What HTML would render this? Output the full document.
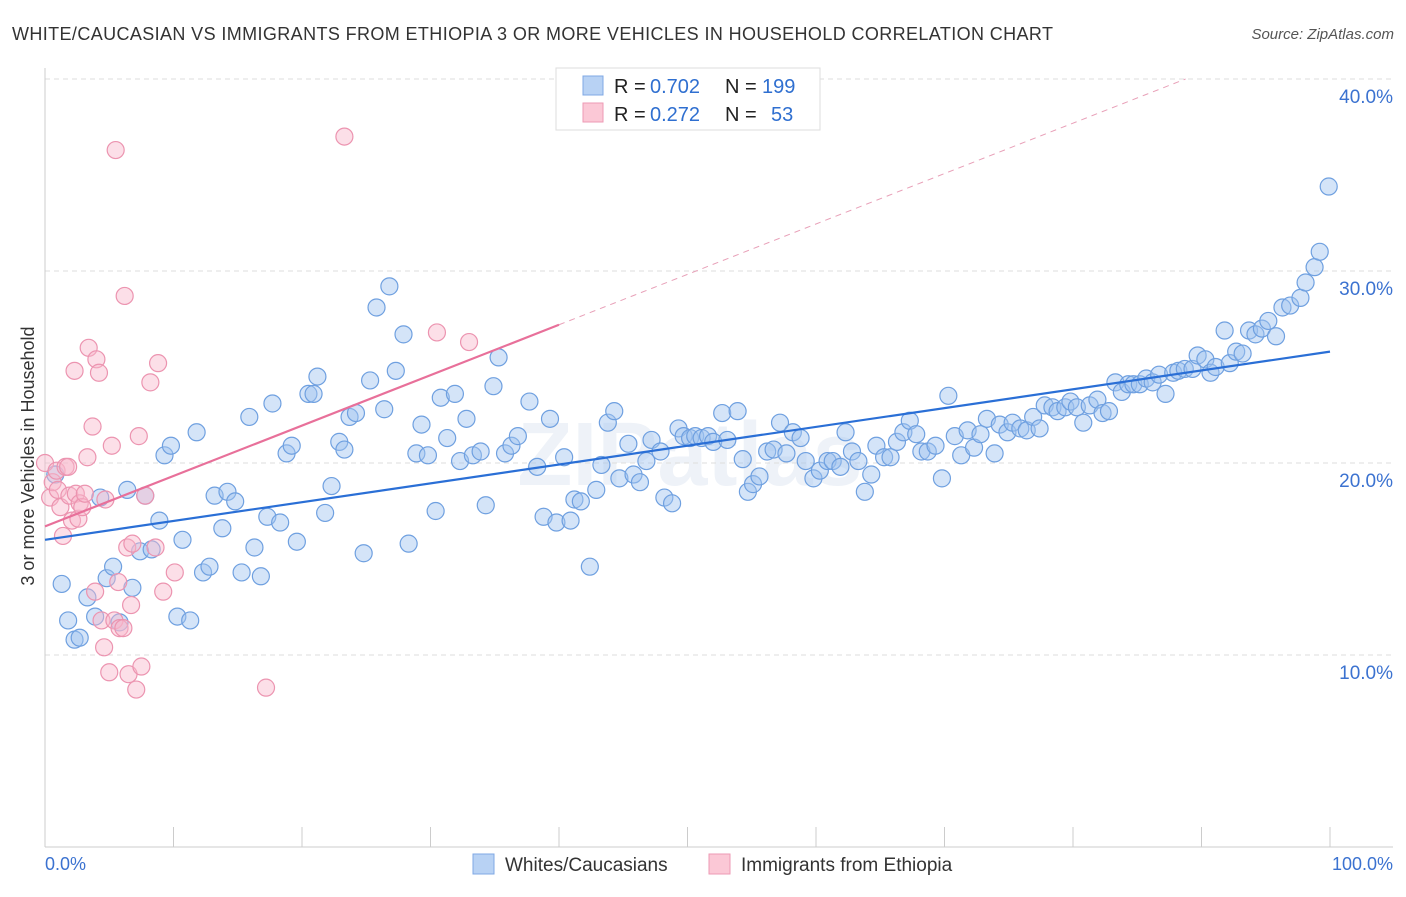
<!DOCTYPE html>
<html><head><meta charset="utf-8"><style>
body{margin:0;background:#fff;font-family:"Liberation Sans",sans-serif;}
svg text{font-family:"Liberation Sans",sans-serif;}
</style></head><body>
<svg id="chart" width="1406" height="892" xmlns="http://www.w3.org/2000/svg">
<text x="12" y="40" font-size="18" fill="#333" textLength="1041">WHITE/CAUCASIAN VS IMMIGRANTS FROM ETHIOPIA 3 OR MORE VEHICLES IN HOUSEHOLD CORRELATION CHART</text>
<text x="1394" y="39" font-size="15" fill="#555" font-style="italic" text-anchor="end">Source: ZipAtlas.com</text>
<text x="690" y="485" font-size="90" fill="#eef2f8" text-anchor="middle" font-weight="bold">ZIPatlas</text>
<text transform="translate(34,456) rotate(-90)" font-size="18" fill="#333" text-anchor="middle">3 or more Vehicles in Household</text>
<g id="grid"></g><g id="pts"></g><g id="lines"></g>
<g>
<rect x="556" y="68" width="264" height="62" fill="#fff" stroke="#ddd"/>
<rect x="583" y="76" width="20" height="19" fill="#b8d2f4" stroke="#7fa8e4"/>
<rect x="583" y="103" width="20" height="19" fill="#fbc8d6" stroke="#ee9ab4"/>
<text x="614" y="93" font-size="20" fill="#222">R =</text>
<text x="650" y="93" font-size="20" fill="#2f6fd0">0.702</text>
<text x="725" y="93" font-size="20" fill="#222">N =</text>
<text x="762" y="93" font-size="20" fill="#2f6fd0">199</text>
<text x="614" y="121" font-size="20" fill="#222">R =</text>
<text x="650" y="121" font-size="20" fill="#2f6fd0">0.272</text>
<text x="725" y="121" font-size="20" fill="#222">N =</text>
<text x="771" y="121" font-size="20" fill="#2f6fd0">53</text>
</g>
<g>
<rect x="473" y="854" width="21" height="20" fill="#b8d2f4" stroke="#7fa8e4"/>
<text x="505" y="871" font-size="19" fill="#333">Whites/Caucasians</text>
<rect x="709" y="854" width="21" height="20" fill="#fbc8d6" stroke="#ee9ab4"/>
<text x="741" y="871" font-size="19" fill="#333">Immigrants from Ethiopia</text>
</g>
<text x="45" y="870" font-size="18" fill="#3b72d0">0.0%</text>
<text x="1393" y="870" font-size="18" fill="#3b72d0" text-anchor="end">100.0%</text>
</svg>
<script>
const yTicks=[10,20,30,40];
const blueX=[0.8,1.3,1.8,2.3,2.7,3.3,3.9,4.3,4.8,5.3,5.8,6.4,6.8,7.4,7.8,8.3,8.9,9.3,9.8,10.3,10.7,11.3,11.8,12.3,12.8,13.2,13.8,14.2,14.8,15.3,15.9,16.3,16.8,17.3,17.7,18.3,18.8,19.2,19.6,20.5,20.9,21.2,21.8,22.3,22.9,23.3,23.7,24.2,24.8,25.3,25.8,26.4,26.8,27.3,27.9,28.3,28.9,29.3,29.8,30.4,30.8,31.3,31.9,32.3,32.8,33.3,33.9,34.3,34.9,35.3,35.8,36.3,36.8,37.7,38.3,38.8,39.3,39.8,40.4,40.9,41.2,41.7,42.4,42.9,43.3,43.8,44.3,44.7,45.4,45.8,46.3,46.8,47.2,47.9,48.2,48.8,49.3,49.7,50.2,50.6,51.1,51.6,52.0,52.7,53.1,53.9,54.3,54.7,55.1,55.6,56.2,56.7,57.2,57.7,58.2,58.8,59.2,59.8,60.3,60.9,61.3,61.9,62.3,62.8,63.3,63.8,64.3,64.7,65.3,65.8,66.3,66.8,67.3,67.8,68.2,68.7,69.3,69.8,70.3,70.8,71.3,71.8,72.3,72.8,73.3,73.9,74.3,74.9,75.3,75.9,76.4,76.9,77.4,77.8,78.4,78.8,79.4,79.8,80.3,80.8,81.3,81.9,82.3,82.8,83.3,83.8,84.3,84.7,85.2,85.7,86.2,86.7,87.2,87.8,88.2,88.7,89.3,89.7,90.3,90.7,91.1,91.8,92.2,92.7,93.2,93.7,94.2,94.7,95.2,95.8,96.3,96.9,97.7,98.1,98.8,99.2,99.9];
const blueY=[19.4,13.7,11.8,10.8,10.9,13.0,12.0,18.2,14.0,14.6,11.7,18.6,13.5,15.4,18.3,15.5,17.0,20.4,20.9,12.0,16.0,11.8,21.6,14.3,14.6,18.3,16.6,18.5,18.0,14.3,22.4,15.6,14.1,17.2,23.1,16.9,20.5,20.9,15.9,23.6,23.6,24.5,17.4,18.8,21.1,20.7,22.4,22.6,15.3,24.3,28.1,22.8,29.2,24.8,26.7,15.8,20.5,22.0,20.4,17.5,23.4,21.3,23.6,20.1,22.3,20.4,20.6,17.8,24.0,25.5,20.5,20.9,21.4,23.2,19.8,17.2,22.3,16.9,20.3,17.0,18.1,18.0,14.6,18.6,19.9,22.1,22.7,19.2,21.0,19.4,19.0,20.1,21.2,20.6,18.2,17.9,21.8,21.4,21.3,21.4,21.3,21.4,21.1,22.6,21.2,22.7,20.2,18.5,18.9,19.3,20.6,20.7,22.1,20.5,21.6,21.3,20.1,19.2,19.6,20.1,20.1,19.8,21.6,20.6,20.1,18.5,19.4,20.9,20.3,20.3,21.1,21.6,22.2,21.5,20.6,20.6,20.9,19.2,23.5,21.4,20.4,21.7,20.8,21.5,22.3,20.5,22.0,21.6,22.1,21.8,21.7,22.4,21.8,23.0,22.9,22.7,22.9,23.2,22.9,22.1,23.0,23.3,22.6,22.7,24.2,23.7,24.1,24.1,24.1,24.4,24.2,24.6,23.6,24.7,24.8,24.9,24.9,25.6,25.4,24.7,25.0,26.9,25.2,25.8,25.7,26.9,26.7,27.0,27.4,26.6,28.1,28.2,28.6,29.4,30.2,31.0,34.4];
const pinkX=[0,0.4,0.6,0.9,1.0,1.2,1.4,1.6,1.8,1.9,2.1,2.3,2.4,2.6,2.7,2.9,3.1,3.3,3.4,3.7,3.9,4.0,4.2,4.4,4.6,4.7,5.0,5.2,5.4,5.5,5.7,5.8,6.1,6.2,6.4,6.5,6.7,6.8,7.1,7.3,7.5,7.8,8.2,8.6,8.8,9.2,10.1,17.2,23.3,30.5,33.0];
const pinkY=[20.0,18.2,19.0,19.6,18.6,17.7,16.2,19.8,19.8,18.3,17.0,24.8,18.4,17.1,17.9,17.7,18.4,20.3,26.0,21.9,13.3,25.4,24.7,11.8,10.4,18.1,9.1,20.9,11.8,36.3,13.8,11.4,11.4,28.7,15.6,9.0,12.6,15.8,8.2,21.4,9.4,18.3,24.2,15.6,25.2,13.3,14.3,8.3,37.0,26.8,26.3];
const blueTrend=[16.0,25.8];
const pinkTrend=[16.7,27.2];
const NS='http://www.w3.org/2000/svg';
const X=v=>45+v*12.85, Y=v=>847-v*19.2;
function mk(t,a,p){const e=document.createElementNS(NS,t);for(const k in a)e.setAttribute(k,a[k]);p.appendChild(e);return e;}
const grid=document.getElementById('grid');
yTicks.forEach(t=>{
 const l=mk('line',{x1:45,x2:1393,y1:Y(t),y2:Y(t),stroke:'#ddd','stroke-dasharray':'5,4'},grid);
 
 
 const tx=mk('text',{x:1393,y:Y(t)+24,'font-size':19,fill:'#3b72d0','text-anchor':'end'},grid);
 tx.textContent=t.toFixed(1)+'%';
 
 
});
mk('line',{x1:45,x2:45,y1:68,y2:847,stroke:'#ccc'},grid);
mk('line',{x1:45,x2:1393,y1:847,y2:847,stroke:'#ccc'},grid);
for(let i=0;i<=10;i++){mk('line',{x1:X(i*10),x2:X(i*10),y1:827,y2:847,stroke:'#ccc'},grid);}
const pts=document.getElementById('pts');
blueX.forEach((x,i)=>{const c=mk('circle',{cx:X(x),cy:Y(blueY[i]),r:8.5,fill:'rgba(160,196,240,0.45)',stroke:'#6fa0e0','stroke-width':1.2},pts);
 
 });
pinkX.forEach((x,i)=>{const c=mk('circle',{cx:X(x),cy:Y(pinkY[i]),r:8.5,fill:'rgba(248,184,204,0.45)',stroke:'#ec94b0','stroke-width':1.2},pts);
 
 });
const lines=document.getElementById('lines');
const bl=mk('line',{x1:X(0),y1:Y(blueTrend[0]),x2:X(100),y2:Y(blueTrend[1]),stroke:'#2a6fd6','stroke-width':2.2},lines);


const slope=(pinkTrend[1]-pinkTrend[0])/40;
const pl=mk('line',{x1:X(0),y1:Y(pinkTrend[0]),x2:X(40),y2:Y(pinkTrend[1]),stroke:'#e8709a','stroke-width':2.2},lines);


const xe=(40-pinkTrend[0])/slope;
const pd=mk('line',{x1:X(40),y1:Y(pinkTrend[1]),x2:X(xe),y2:Y(40),stroke:'#e8a0b8','stroke-width':1,'stroke-dasharray':'6,5'},lines);


</script>
</body></html>
